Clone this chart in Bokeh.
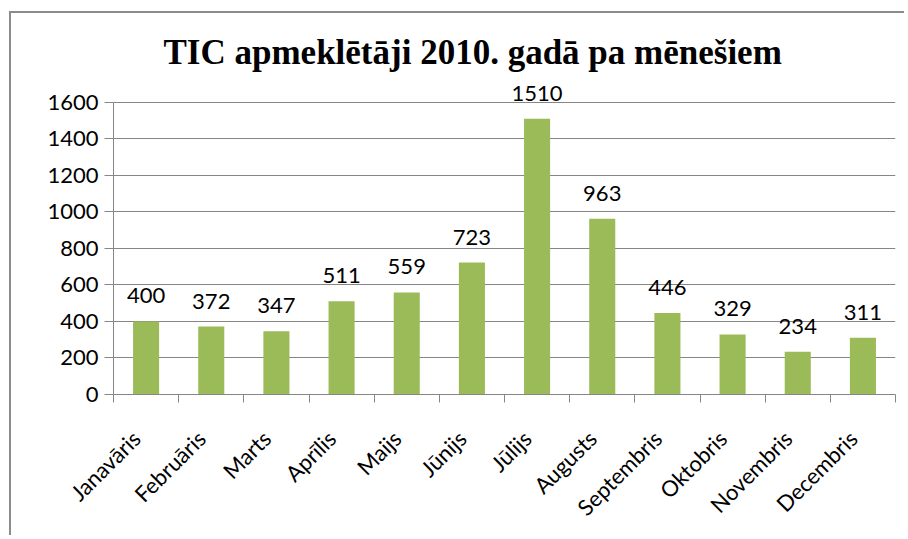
from math import pi
from bokeh.plotting import figure
from bokeh.models import ColumnDataSource, FixedTicker, LabelSet, Range1d
from bokeh.core.properties import value
from bokeh.embed import file_html
from bokeh.resources import INLINE

months = ["Janavāris", "Februāris", "Marts", "Aprīlis", "Maijs", "Jūnijs",
          "Jūlijs", "Augusts", "Septembris", "Oktobris", "Novembris", "Decembris"]
visitors = [400, 372, 347, 511, 559, 723, 1510, 963, 446, 329, 234, 311]
y_ticks = [0, 200, 400, 600, 800, 1000, 1200, 1400, 1600]
title_text = "TIC apmeklētāji 2010. gadā pa mēnešiem"

GREY = "#868686"
FONT = "Lato"

xs = [i + 0.5 for i in range(len(months))]
label_pos = [x - 0.15 for x in xs]
src = ColumnDataSource(dict(x=xs, v=visitors, lab=[str(v) for v in visitors]))

p = figure(width=895, height=524,
           x_range=Range1d(0, len(months)), y_range=Range1d(y_ticks[0], 1720),
           output_backend="svg", toolbar_location=None,
           min_border_left=102, min_border_right=11, min_border_top=67, min_border_bottom=143,
           styles={"border-left": "2px solid #8c8c8c", "border-top": "2px solid #8c8c8c",
                   "margin-top": "11px", "margin-left": "9px"})
p.outline_line_color = None
p.background_fill_color = "white"
p.border_fill_color = "white"

p.vbar(x="x", top="v", width=0.4, source=src, fill_color="#9BBB59", line_color=None)

labels = LabelSet(x="x", y="v", text="lab", source=src, text_align="center",
                  text_baseline="alphabetic", y_offset=18, text_font=value(FONT),
                  text_font_size="22px", text_color="#000000")
p.add_layout(labels)

# y axis
p.yaxis.ticker = FixedTicker(ticks=y_ticks)
p.yaxis.bounds = (y_ticks[0], y_ticks[-1])
p.yaxis.axis_line_color = GREY
p.yaxis.major_tick_line_color = GREY
p.yaxis.major_tick_out = 9
p.yaxis.major_tick_in = 0
p.yaxis.minor_tick_line_color = None
p.yaxis.major_label_standoff = 6
p.yaxis.major_label_text_font = FONT
p.yaxis.major_label_text_font_size = "22px"
p.yaxis.major_label_text_color = "#000000"
p.ygrid.ticker = FixedTicker(ticks=y_ticks)
p.ygrid.grid_line_color = GREY
p.xgrid.grid_line_color = None

# x axis: labels near centres, ticks at boundaries
p.xaxis.ticker = FixedTicker(ticks=label_pos, minor_ticks=list(range(len(months) + 1)))
p.xaxis.major_label_overrides = {x: m for x, m in zip(label_pos, months)}
p.xaxis.axis_line_color = GREY
p.xaxis.major_tick_line_color = None
p.xaxis.major_tick_out = 0
p.xaxis.major_tick_in = 0
p.xaxis.minor_tick_line_color = GREY
p.xaxis.minor_tick_out = 8
p.xaxis.minor_tick_in = 0
p.xaxis.major_label_orientation = pi / 4
p.xaxis.major_label_standoff = 32
p.xaxis.major_label_text_font = FONT
p.xaxis.major_label_text_font_size = "22px"
p.xaxis.major_label_text_color = "#000000"

p.title.text = title_text
p.title.text_font = "Liberation Serif"
p.title.text_font_style = "bold"
p.title.text_font_size = "35px"
p.title.text_color = "#000000"
p.title.align = "left"
p.title.offset = 50
p.title.standoff = 17

open("out.html", "w").write(file_html(p, INLINE))
